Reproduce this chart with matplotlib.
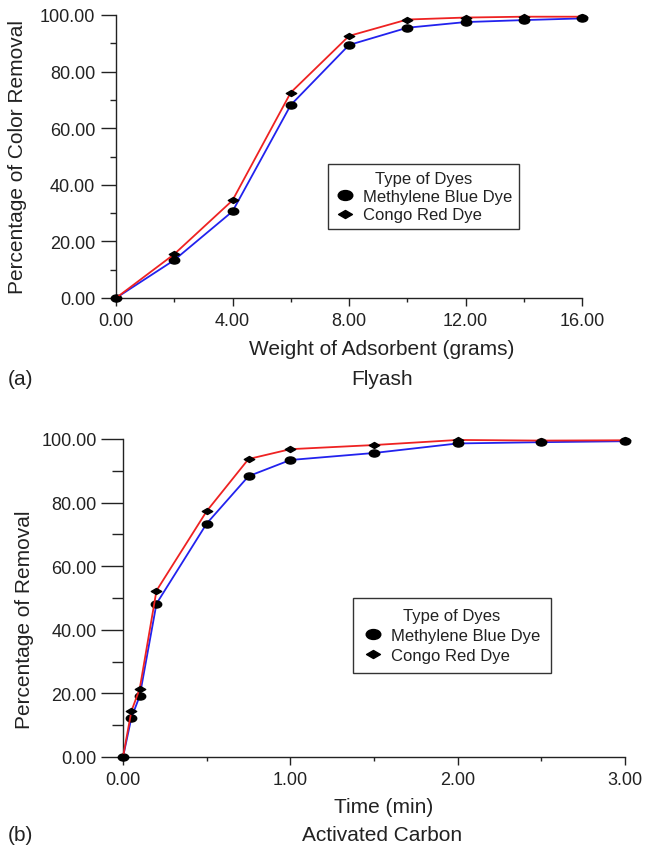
import numpy as np
import matplotlib
matplotlib.use("Agg")
import matplotlib.pyplot as plt
from matplotlib.path import Path
from matplotlib.transforms import Affine2D
from matplotlib.lines import Line2D
from matplotlib.ticker import FormatStrFormatter, MultipleLocator

plt.rcParams['font.family'] = ['Liberation Sans', 'DejaVu Sans']
plt.rcParams['text.color'] = '#222222'
plt.rcParams['xtick.color'] = '#222222'
plt.rcParams['ytick.color'] = '#222222'

# (a) flyash
weight = [0, 2, 4, 6, 8, 10, 12, 14, 16]
mb_fly = [0, 13.4, 30.6, 68.2, 89.4, 95.5, 97.5, 98.2, 98.8]
cr_fly = [0, 15.5, 34.5, 72.6, 92.6, 98.4, 99.1, 99.4, 99.4]

# (b) activated carbon
time_min = [0, 0.05, 0.1, 0.2, 0.5, 0.75, 1.0, 1.5, 2.0, 2.5, 3.0]
mb_ac = [0, 12.3, 19.2, 48.2, 73.4, 88.3, 93.4, 95.6, 98.6, 99.0, 99.3]
cr_ac = [0, 14.4, 21.5, 52.3, 77.3, 93.7, 96.8, 98.1, 99.7, 99.5, 99.6]

names = ["Methylene Blue Dye", "Congo Red Dye"]

# marker shapes: flat ellipse and flat diamond
ell = Path.unit_circle().transformed(Affine2D().scale(1, 0.68))
dia = Path([(-1, 0), (0, 0.58), (1, 0), (0, -0.58), (-1, 0)],
           [Path.MOVETO, Path.LINETO, Path.LINETO, Path.LINETO, Path.CLOSEPOLY])

W, H = 646, 853
fig = plt.figure(figsize=(W / 100, H / 100), dpi=100)

def px_ax(l, r, t, b):
    return fig.add_axes([l / W, 1 - b / H, (r - l) / W, (b - t) / H])

def style(ax, xmaj, xmin, ylen):
    for s in ["top", "right"]:
        ax.spines[s].set_visible(False)
    for s in ["left", "bottom"]:
        ax.spines[s].set_linewidth(1.0)
        ax.spines[s].set_color("#222222")
    ax.xaxis.set_major_locator(MultipleLocator(xmaj))
    ax.xaxis.set_minor_locator(MultipleLocator(xmin))
    ax.yaxis.set_major_locator(MultipleLocator(20))
    ax.yaxis.set_minor_locator(MultipleLocator(10))
    ax.xaxis.set_major_formatter(FormatStrFormatter("%.2f"))
    ax.yaxis.set_major_formatter(FormatStrFormatter("%.2f"))
    ax.tick_params(axis="x", which="major", length=6, width=1, pad=4, labelsize=13)
    ax.tick_params(axis="x", which="minor", length=3, width=1)
    ax.tick_params(axis="y", which="major", length=ylen[0], width=1, pad=ylen[2], labelsize=13)
    ax.tick_params(axis="y", which="minor", length=ylen[1], width=1)
    ax.set_ylim(0, 100)

def legend(ax, x, y, sp, bp):
    h = [Line2D([], [], ls="none", marker=ell, color="black", markersize=10.5),
         Line2D([], [], ls="none", marker=dia, color="black", markersize=10)]
    lg = ax.legend(h, names, title="Type of Dyes", loc="upper left",
                   bbox_to_anchor=(x / W, 1 - y / H), bbox_transform=fig.transFigure,
                   borderaxespad=0, fontsize=12, title_fontsize=12,
                   fancybox=False, framealpha=1, edgecolor="#333333",
                   handlelength=1.2, handletextpad=0.5, labelspacing=sp,
                   borderpad=bp)
    lg.get_frame().set_linewidth(1.0)

# ---- (a)
ax1 = px_ax(116, 582, 16, 299)
ax1.plot(weight, mb_fly, color="#2222ee", lw=1.3, marker=ell, ms=7.5,
         mfc="black", mec="black", clip_on=False, zorder=3)
ax1.plot(weight, cr_fly, color="#ee2222", lw=1.3, marker=dia, ms=7.5,
         mfc="black", mec="black", clip_on=False, zorder=3)
ax1.set_xlim(0, 16)
style(ax1, 4, 2, (11, 4, 4))
legend(ax1, 328, 165, 0.2, 0.4)

fig.text(18 / W, 1 - 157 / H, "Percentage of Color Removal", rotation=90,
         ha="center", va="center", fontsize=15)
fig.text(382 / W, 1 - 350 / H, "Weight of Adsorbent (grams)", ha="center", va="center", fontsize=15)
fig.text(382 / W, 1 - 380 / H, "Flyash", ha="center", va="center", fontsize=15)
fig.text(8 / W, 1 - 380 / H, "(a)", ha="left", va="center", fontsize=15)

# ---- (b)
ax2 = px_ax(123, 625, 440, 758)
ax2.plot(time_min, mb_ac, color="#2222ee", lw=1.3, marker=ell, ms=7.5,
         mfc="black", mec="black", clip_on=False, zorder=3)
ax2.plot(time_min, cr_ac, color="#ee2222", lw=1.3, marker=dia, ms=7.5,
         mfc="black", mec="black", clip_on=False, zorder=3)
ax2.set_xlim(0, 3)
style(ax2, 1, 0.5, (16, 8, 3))
legend(ax2, 353, 599, 0.3, 0.6)

fig.text(25 / W, 1 - 620 / H, "Percentage of Removal", rotation=90,
         ha="center", va="center", fontsize=15)
fig.text(384 / W, 1 - 808 / H, "Time (min)", ha="center", va="center", fontsize=15)
fig.text(382 / W, 1 - 836 / H, "Activated Carbon", ha="center", va="center", fontsize=15)
fig.text(8 / W, 1 - 836 / H, "(b)", ha="left", va="center", fontsize=15)

fig.savefig("out.png", dpi=100)
